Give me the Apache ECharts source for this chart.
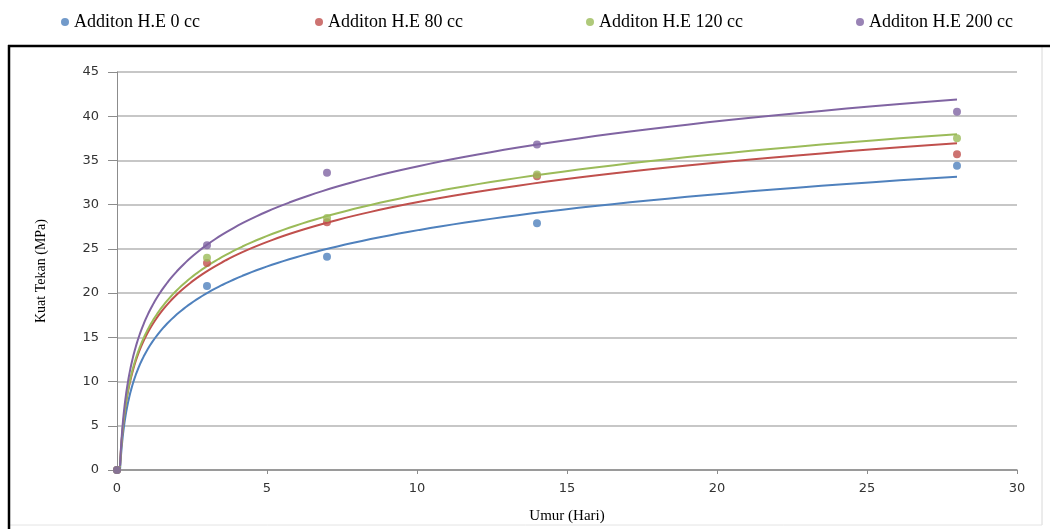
<!DOCTYPE html>
<html>
<head>
<meta charset="utf-8">
<script src="https://cdn.jsdelivr.net/npm/echarts@6/dist/echarts.min.js"></script>
<style>
  html, body { margin: 0; padding: 0; background: #fff; }
  #chart { width: 1050px; height: 529px; }
</style>
</head>
<body>
<div id="chart"></div>
<script>
// umur benda uji (hari)
const days = [0, 3, 7, 14, 28]
// day 0 is taken as 0.1 when fitting the log trendline (ln 0 undefined)
const zeroDayForFit = 0.1

const seriesNames = ['Additon H.E 0 cc', 'Additon H.E 80 cc', 'Additon H.E 120 cc', 'Additon H.E 200 cc']
// kuat tekan (MPa)
const he0 = [0, 20.8, 24.1, 27.9, 34.4]
const he80 = [0, 23.4, 28.0, 33.2, 35.7]
const he120 = [0, 24.0, 28.5, 33.4, 37.5]
const he200 = [0, 25.4, 33.6, 36.8, 40.5]

const yTicks = [0, 5, 10, 15, 20, 25, 30, 35, 40, 45]
const xTicks = [0, 5, 10, 15, 20, 25, 30]

const colors = ['#4F81BD', '#C0504D', '#9BBB59', '#8064A2']
const values = [he0, he80, he120, he200]

// logarithmic trendline y = a ln(x) + b (least squares, like the spreadsheet)
const logFit = (ys) => {
  const lx = days.map(d => Math.log(d === 0 ? zeroDayForFit : d))
  const n = lx.length
  const mx = lx.reduce((s, v) => s + v, 0) / n
  const my = ys.reduce((s, v) => s + v, 0) / n
  let sxx = 0
  let sxy = 0
  lx.forEach((v, i) => {
    sxx += (v - mx) * (v - mx)
    sxy += (v - mx) * (ys[i] - my)
  })
  const a = sxy / sxx
  return { a, b: my - a * mx }
}

const trendPoints = (ys) => {
  const { a, b } = logFit(ys)
  const x0 = zeroDayForFit
  const x1 = days[days.length - 1]
  const pts = []
  const steps = 160
  for (let i = 0; i <= steps; i++) {
    // log spaced so the steep start stays smooth
    const x = Math.exp(Math.log(x0) + (Math.log(x1) - Math.log(x0)) * i / steps)
    pts.push([x, Math.max(0, a * Math.log(x) + b)])
  }
  return pts
}

const series = []
values.forEach((ys, i) => {
  series.push({
    name: seriesNames[i] + ' trend',
    type: 'line',
    data: trendPoints(ys),
    showSymbol: false,
    symbol: 'none',
    lineStyle: { color: colors[i], width: 2 },
    z: 2,
    silent: true
  })
  series.push({
    name: seriesNames[i],
    type: 'scatter',
    data: days.map((d, j) => [d, ys[j]]),
    symbol: 'circle',
    symbolSize: 8,
    itemStyle: { color: colors[i] },
    z: 3
  })
})

const legendLeft = [56, 310, 581, 851]
const legends = seriesNames.map((name, i) => ({
  data: [name],
  left: legendLeft[i],
  top: 8,
  icon: 'circle',
  itemWidth: 8,
  itemHeight: 8,
  textStyle: {
    fontFamily: 'Liberation Serif',
    fontSize: 18,
    color: '#000'
  },
  selectedMode: false
}))

const axisGray = '#8c8c8c'
const labelStyle = { fontFamily: 'DejaVu Sans', fontSize: 13, color: '#333' }

const options = {
  backgroundColor: '#fff',
  animation: false,
  color: colors,
  legend: legends,
  tooltip: { show: false },
  grid: { left: 117, right: 33, top: 72, bottom: 55, containLabel: false },
  graphic: [
    // chart frame
    { type: 'line', shape: { x1: 1042, y1: 46, x2: 1042, y2: 525 }, style: { stroke: '#d8d8d8', lineWidth: 1 } },
    { type: 'line', shape: { x1: 9, y1: 525, x2: 1042, y2: 525 }, style: { stroke: '#e4e4e4', lineWidth: 1 } },
    { type: 'line', shape: { x1: 8, y1: 46, x2: 1050, y2: 46 }, style: { stroke: '#000', lineWidth: 2.5 } },
    { type: 'line', shape: { x1: 9, y1: 45, x2: 9, y2: 529 }, style: { stroke: '#000', lineWidth: 2.5 } }
  ],
  xAxis: {
    type: 'value',
    min: xTicks[0],
    max: xTicks[xTicks.length - 1],
    interval: 5,
    name: 'Umur (Hari)',
    nameLocation: 'middle',
    nameGap: 39,
    nameTextStyle: { fontFamily: 'Liberation Serif', fontSize: 15, color: '#000' },
    axisLine: { lineStyle: { color: axisGray, width: 1.5 } },
    axisTick: { show: true, length: 4, lineStyle: { color: axisGray } },
    axisLabel: Object.assign({ margin: 12 }, labelStyle),
    splitLine: { show: false }
  },
  yAxis: {
    type: 'value',
    min: yTicks[0],
    max: yTicks[yTicks.length - 1],
    interval: 5,
    name: 'Kuat Tekan (MPa)',
    nameLocation: 'middle',
    nameGap: 69,
    nameTextStyle: { fontFamily: 'Liberation Serif', fontSize: 14, color: '#000' },
    axisLine: { show: true, lineStyle: { color: axisGray, width: 1 } },
    axisTick: { show: true, length: 9, lineStyle: { color: axisGray } },
    axisLabel: Object.assign({ margin: 18 }, labelStyle),
    splitLine: { show: true, lineStyle: { color: '#b4b4b4', width: 1.5 } }
  },
  series
}

const chartInstance = echarts.init(document.getElementById('chart'), null, { renderer: 'canvas' })
chartInstance.setOption(options)
</script>
</body>
</html>
